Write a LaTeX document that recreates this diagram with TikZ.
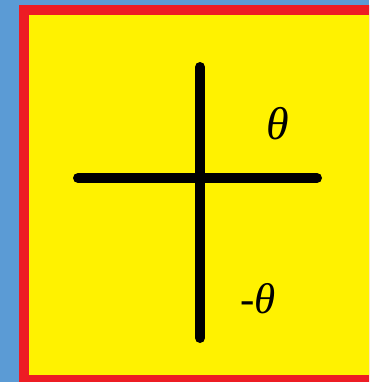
\documentclass[tikz,border=0pt]{standalone}
\usepackage{fontspec}
\newfontfamily\greekfont{Liberation Serif}
\definecolor{skyblue}{HTML}{5B9BD5}
\definecolor{framered}{HTML}{ED1C24}
\definecolor{signyellow}{HTML}{FFF200}
\tikzset{bar/.style={line width=10pt,line cap=round,black},
  anglelabel/.style={font=\greekfont\fontsize{46}{50}\selectfont}}
\begin{document}
\begin{tikzpicture}[x=1pt,y=-1pt]
\clip (0,0) rectangle (369,382);
\fill[skyblue] (0,0) rectangle (369,382);
\fill[framered] (19,5) rectangle (380,395);
\fill[signyellow] (29,15) rectangle (380,375);
\coordinate (top) at (200,67);
\coordinate (bottom) at (200,338);
\coordinate (left) at (78,178);
\coordinate (right) at (317,178);
\draw[bar] (top) -- (bottom);
\draw[bar] (left) -- (right);
\node[anglelabel] (pos) at (278,124) {\itshape θ};
\node[anglelabel,font=\greekfont\fontsize{43}{50}\selectfont] (neg) at (258,299) {-\itshape θ};
\end{tikzpicture}
\end{document}
